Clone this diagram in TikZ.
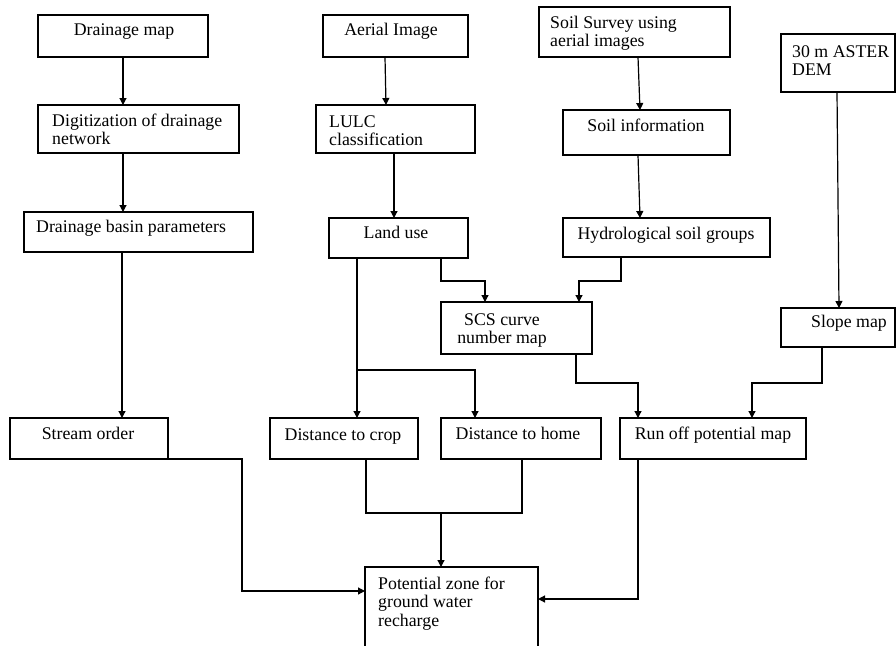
\documentclass[tikz,border=0pt]{standalone}
\usepackage{fontspec}
\setmainfont{Liberation Serif}
\usetikzlibrary{arrows.meta}
\newcommand\mlL[1]{\vtop{\halign{##\hfil\cr#1\crcr}}}
\newcommand\mlC[1]{\vtop{\halign{\hfil##\hfil\cr#1\crcr}}}
\newcommand\mybox[5]{\node[box, minimum width={#4-#2}, minimum height={#5-#3}] (#1) at (#2,#3) {};}
\begin{document}
\begin{tikzpicture}[x=1pt,y=-1pt,
  box/.style={draw, line width=1.2pt, inner sep=0pt, outer sep=0pt, anchor=north west},
  lbl/.style={inner sep=0pt, font=\fontsize{17.8}{18.7}\selectfont},
  ln/.style={line width=1.2pt},
  arr/.style={line width=1.2pt, -{Triangle[width=7pt,length=7pt]}}]
\useasboundingbox (0,0) rectangle (896,645);
\clip (0,0) rectangle (896,645);
% boxes
\mybox{dmap}{38}{15}{208}{57}
\mybox{digit}{38}{105}{239}{153}
\mybox{basin}{24}{212}{253}{252}
\mybox{stream}{10}{418}{168}{459}
\mybox{aerial}{323}{15}{468}{57}
\mybox{lulc}{316}{105}{475}{153}
\mybox{landuse}{329}{218}{468}{258}
\mybox{survey}{539}{7}{730}{57}
\mybox{soilinfo}{563}{110}{730}{155}
\mybox{hydro}{563}{218}{770}{257}
\mybox{aster}{781}{34}{895}{92}
\mybox{slope}{781}{308}{895}{347}
\mybox{scs}{441}{302}{592}{354}
\mybox{dcrop}{270}{418}{418}{459}
\mybox{dhome}{441}{418}{601}{459}
\mybox{runoff}{620}{418}{806}{459}
\mybox{pzone}{365}{567}{538}{670}
% labels
\node[lbl, anchor=base] (dmap-t) at (124,35) {Drainage map};
\node[lbl, anchor=base west] (digit-t) at (52,126) {\mlL{Digitization of drainage\cr network}};
\node[lbl, anchor=base west] (basin-t) at (36,232) {Drainage basin parameters};
\node[lbl, anchor=base] (stream-t) at (88,439) {Stream order};
\node[lbl, anchor=base] (aerial-t) at (391,35) {Aerial Image};
\node[lbl, anchor=base west] (lulc-t) at (329,127) {\mlL{LULC\cr classification}};
\node[lbl, anchor=base] (landuse-t) at (396,238) {Land use};
\node[lbl, anchor=base west] (survey-t) at (550,28) {\mlL{Soil Survey using\cr aerial images}};
\node[lbl, anchor=base] (soilinfo-t) at (646,131) {Soil information};
\node[lbl, anchor=base] (hydro-t) at (666,239) {Hydrological soil groups};
\node[lbl, anchor=base west] (aster-t) at (792,57) {\mlL{30 m ASTER\cr DEM}};
\node[lbl, anchor=base] (slope-t) at (849,327) {Slope map};
\node[lbl, anchor=base] (scs-t) at (502,325) {\mlC{SCS curve\cr number map}};
\node[lbl, anchor=base] (dcrop-t) at (343,440) {Distance to crop};
\node[lbl, anchor=base] (dhome-t) at (518,439) {Distance to home};
\node[lbl, anchor=base] (runoff-t) at (713,439) {Run off potential map};
\node[lbl, anchor=base west] (pzone-t) at (378,589) {\mlL{Potential zone for\cr ground water\cr recharge}};
% connectors
\draw[arr] (123,0 |- dmap.south) -- (123,0 |- digit.north);
\draw[arr] (123,0 |- digit.south) -- (123,0 |- basin.north);
\draw[arr] (122,0 |- basin.south) -- (122,0 |- stream.north);
\draw[arr] (385,0 |- aerial.south) -- (386,0 |- lulc.north);
\draw[arr] (394,0 |- lulc.south) -- (394,0 |- landuse.north);
\draw[arr] (638,0 |- survey.south) -- (640,0 |- soilinfo.north);
\draw[arr] (638,0 |- soilinfo.south) -- (640,0 |- hydro.north);
\draw[arr] (837,0 |- aster.south) -- (839,0 |- slope.north);
\draw[arr] (441,0 |- landuse.south) -- (441,281) -- (485,281) -- (485,0 |- scs.north);
\draw[arr] (621,0 |- hydro.south) -- (621,281) -- (579,281) -- (579,0 |- scs.north);
\coordinate (split) at (357,370);
\draw[arr] (357,0 |- landuse.south) -- (357,0 |- dcrop.north);
\draw[arr] (split) -- (475,370) -- (475,0 |- dhome.north);
\draw[arr] (576,0 |- scs.south) -- (576,383) -- (638,383) -- (638,0 |- runoff.north);
\draw[arr] (822,0 |- slope.south) -- (822,383) -- (752,383) -- (752,0 |- runoff.north);
\draw[arr] (stream.south east) -- (242,0 |- stream.south) -- (242,591) -- (pzone.west |- 0,591);
\coordinate (join) at (441,513);
\draw[ln] (366,0 |- dcrop.south) -- (366,513) -- (522,513) -- (522,0 |- dhome.south);
\draw[arr] (join) -- (441,0 |- pzone.north);
\draw[arr] (638,0 |- runoff.south) -- (638,599) -- (pzone.east |- 0,599);
\end{tikzpicture}
\end{document}
